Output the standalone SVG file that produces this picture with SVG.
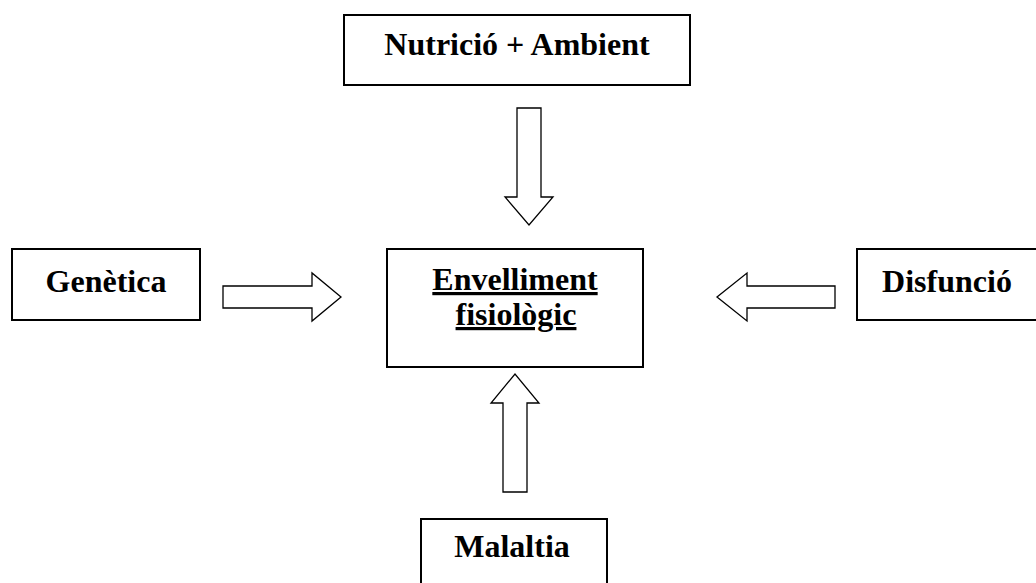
<svg xmlns="http://www.w3.org/2000/svg" width="1036" height="583" viewBox="0 0 1036 583">
<style>
.box{fill:#fff;stroke:#000;stroke-width:2}
.arr{fill:#fff;stroke:#000;stroke-width:1.3;stroke-linejoin:miter}
.t{font-family:"Liberation Serif","Times New Roman",serif;font-weight:bold;font-size:32px;fill:#000;text-anchor:middle}
.u{text-decoration:underline}
</style>
<rect width="1036" height="583" fill="#fff"/>
<g id="node-nutricio">
<rect class="box" x="344" y="15" width="346" height="70"/>
<text class="t" x="517" y="55">Nutrició + Ambient</text>
</g>
<g id="node-genetica">
<rect class="box" x="12" y="249" width="188" height="71"/>
<text class="t" x="106" y="292">Genètica</text>
</g>
<g id="node-envelliment">
<rect class="box" x="387" y="249" width="256" height="118"/>
<text class="t u" x="515" y="290">Envelliment</text>
<text class="t u" x="516" y="325">fisiològic</text>
</g>
<g id="node-disfuncio">
<rect class="box" x="857" y="249" width="190" height="71"/>
<text class="t" x="947" y="292">Disfunció</text>
</g>
<g id="node-malaltia">
<rect class="box" x="421" y="519" width="186" height="80"/>
<text class="t" x="512" y="557">Malaltia</text>
</g>
<g id="connectors">
<polygon class="arr" points="517,108 541,108 541,197 553,197 529,225 505,197 517,197"/>
<polygon class="arr" points="223,286 312,286 312,273 341,297 312,321 312,308 223,308"/>
<polygon class="arr" points="835,286 747,286 747,273 717,297 747,321 747,308 835,308"/>
<polygon class="arr" points="503,492 503,403 491,403 515,374 539,403 527,403 527,492"/>
</g>
</svg>
